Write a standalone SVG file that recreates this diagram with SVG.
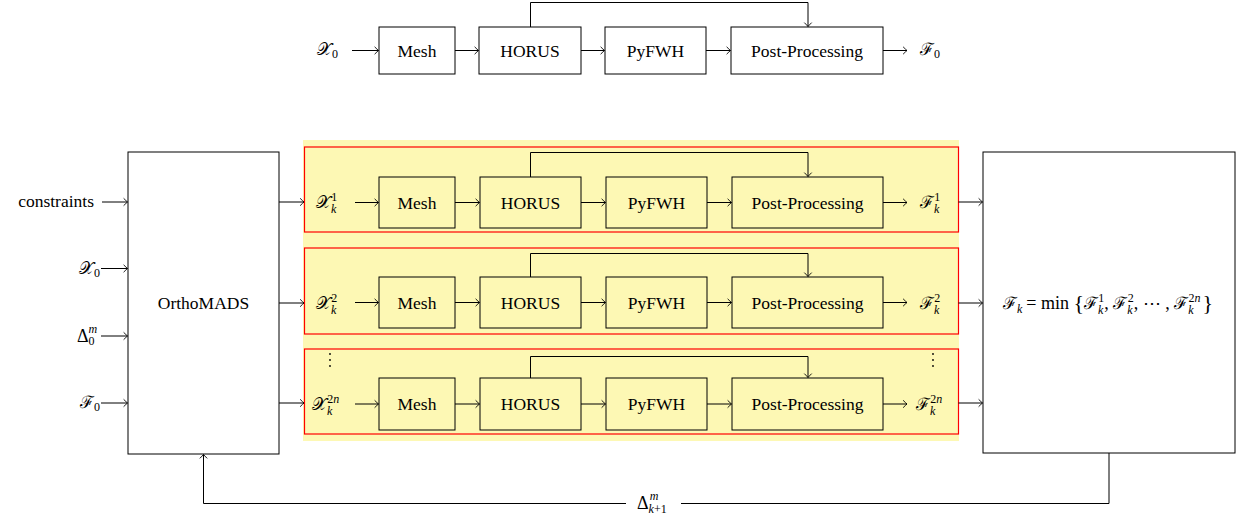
<svg xmlns="http://www.w3.org/2000/svg" width="1242" height="519" viewBox="0 0 1242 519">
  <defs>
    <marker id="to" markerUnits="userSpaceOnUse" markerWidth="10" markerHeight="10" refX="0" refY="0" viewBox="-6 -5 8 10" orient="auto" overflow="visible">
      <path d="M -3.6 -3.4 Q -1.2 -1 0 0 Q -1.2 1 -3.6 3.4" fill="none" stroke="#000" stroke-width="0.9" stroke-linecap="round"/>
    </marker>
  </defs>
  <style>
    text { font-family: 'Liberation Serif', serif; fill: #000; }
    .box { fill: none; stroke: #000; stroke-width: 1; }
    .lane { fill: none; stroke: #ff0000; stroke-width: 1.2; }
    .wire { fill: none; stroke: #000; stroke-width: 1; }
    .arr { fill: none; stroke: #000; stroke-width: 1; marker-end: url(#to); }
    .lbl { font-size: 17.5px; text-anchor: middle; dominant-baseline: central; }
    .m { font-size: 17px; }
    .r { font-size: 18px; }
    .s { font-size: 12px; }
    .i { font-style: italic; }
  </style>

  <rect width="1242" height="519" fill="#fff"/>

  <!-- shaded band behind the parallel evaluations -->
  <rect id="band" x="303" y="140" width="656" height="301" fill="#fdf8b4"/>

  <g font-family="'Liberation Serif', serif" fill="#000">

  <!-- ===== single evaluation chain (top) ===== -->
  <g id="top-chain">
    <g id="top-x0"><text x="317" y="55" class="m">𝒳<tspan class="s" dy="3">0</tspan></text></g>
    <g id="top-mesh"><rect class="box" x="379" y="27" width="76" height="47"/><text class="lbl" x="417" y="51">Mesh</text></g>
    <g id="top-horus"><rect class="box" x="479" y="27" width="102" height="47"/><text class="lbl" x="530" y="51">HORUS</text></g>
    <g id="top-pyfwh"><rect class="box" x="605" y="27" width="101" height="47"/><text class="lbl" x="655.5" y="51">PyFWH</text></g>
    <g id="top-post"><rect class="box" x="731" y="27" width="152" height="47"/><text class="lbl" x="807" y="51">Post-Processing</text></g>
    <g id="top-f0"><text x="920" y="55" class="m">ℱ<tspan class="s" dy="3">0</tspan></text></g>
  </g>

  <!-- ===== optimiser ===== -->
  <g id="orthomads"><rect class="box" x="128" y="152" width="151" height="302"/><text class="lbl" x="203.5" y="303">OrthoMADS</text></g>

  <g id="in-constraints"><text x="94" y="207" font-size="17.5" text-anchor="end">constraints</text></g>
  <g id="in-x0"><text x="100" y="274" class="m" text-anchor="end">𝒳<tspan class="s" dy="3">0</tspan></text></g>
  <g id="in-delta0"><text x="77" y="342" class="r">Δ<tspan class="s" dy="3">0</tspan><tspan class="s i" dx="-6" dy="-12">m</tspan></text></g>
  <g id="in-f0"><text x="100" y="408" class="m" text-anchor="end">ℱ<tspan class="s" dy="3">0</tspan></text></g>

  <!-- ===== parallel evaluation lanes ===== -->
  <g id="lane-1">
    <rect class="lane" x="304.5" y="147" width="654" height="85"/>
    <g id="lane1-x"><text x="316" y="208" class="m">𝒳<tspan class="s i" dy="5">k</tspan><tspan class="s" dx="-5" dy="-12">1</tspan></text></g>
    <g id="lane1-mesh"><rect class="box" x="379" y="177" width="76" height="51"/><text class="lbl" x="417" y="203">Mesh</text></g>
    <g id="lane1-horus"><rect class="box" x="480" y="177" width="101" height="51"/><text class="lbl" x="530.5" y="203">HORUS</text></g>
    <g id="lane1-pyfwh"><rect class="box" x="606" y="177" width="101" height="51"/><text class="lbl" x="656.5" y="203">PyFWH</text></g>
    <g id="lane1-post"><rect class="box" x="732" y="177" width="151" height="51"/><text class="lbl" x="807.5" y="203">Post-Processing</text></g>
    <g id="lane1-f"><text x="920" y="208" class="m">ℱ<tspan class="s i" dy="5">k</tspan><tspan class="s" dx="-5" dy="-12">1</tspan></text></g>
  </g>

  <g id="lane-2">
    <rect class="lane" x="304.5" y="248" width="654" height="86"/>
    <g id="lane2-x"><text x="316" y="309" class="m">𝒳<tspan class="s i" dy="5">k</tspan><tspan class="s" dx="-5" dy="-12">2</tspan></text></g>
    <g id="lane2-mesh"><rect class="box" x="379" y="277" width="76" height="51"/><text class="lbl" x="417" y="303">Mesh</text></g>
    <g id="lane2-horus"><rect class="box" x="480" y="277" width="101" height="51"/><text class="lbl" x="530.5" y="303">HORUS</text></g>
    <g id="lane2-pyfwh"><rect class="box" x="606" y="277" width="101" height="51"/><text class="lbl" x="656.5" y="303">PyFWH</text></g>
    <g id="lane2-post"><rect class="box" x="732" y="277" width="151" height="51"/><text class="lbl" x="807.5" y="303">Post-Processing</text></g>
    <g id="lane2-f"><text x="920" y="309" class="m">ℱ<tspan class="s i" dy="5">k</tspan><tspan class="s" dx="-5" dy="-12">2</tspan></text></g>
  </g>

  <g id="lane-3">
    <rect class="lane" x="304.5" y="349" width="654" height="85"/>
    <g id="lane3-vdots-l"><circle cx="330" cy="354" r="0.9"/><circle cx="330" cy="360" r="0.9"/><circle cx="330" cy="366" r="0.9"/></g>
    <g id="lane3-vdots-r"><circle cx="933" cy="354" r="0.9"/><circle cx="933" cy="360" r="0.9"/><circle cx="933" cy="366" r="0.9"/></g>
    <g id="lane3-x"><text x="312" y="410" class="m">𝒳<tspan class="s i" dy="5">k</tspan><tspan class="s" dx="-5" dy="-12">2<tspan class="i">n</tspan></tspan></text></g>
    <g id="lane3-mesh"><rect class="box" x="379" y="378" width="76" height="52"/><text class="lbl" x="417" y="404">Mesh</text></g>
    <g id="lane3-horus"><rect class="box" x="480" y="378" width="101" height="52"/><text class="lbl" x="530.5" y="404">HORUS</text></g>
    <g id="lane3-pyfwh"><rect class="box" x="606" y="378" width="101" height="52"/><text class="lbl" x="656.5" y="404">PyFWH</text></g>
    <g id="lane3-post"><rect class="box" x="732" y="378" width="151" height="52"/><text class="lbl" x="807.5" y="404">Post-Processing</text></g>
    <g id="lane3-f"><text x="916" y="410" class="m">ℱ<tspan class="s i" dy="5">k</tspan><tspan class="s" dx="-5" dy="-12">2<tspan class="i">n</tspan></tspan></text></g>
  </g>

  <!-- ===== aggregation ===== -->
  <g id="minimum">
    <rect class="box" x="983" y="152" width="252" height="301"/>
    <text x="1108" y="309" class="m" text-anchor="middle">ℱ<tspan class="s i" dy="4">k</tspan><tspan class="r" dx="4" dy="-4">= min </tspan><tspan font-size="22" dy="1">{</tspan><tspan dy="-1">ℱ</tspan><tspan class="s i" dy="5">k</tspan><tspan class="s" dx="-5" dy="-12">1</tspan><tspan class="r" dy="7">, </tspan><tspan>ℱ</tspan><tspan class="s i" dy="5">k</tspan><tspan class="s" dx="-5" dy="-12">2</tspan><tspan class="r" dy="7">, ⋯ , </tspan><tspan>ℱ</tspan><tspan class="s i" dy="5">k</tspan><tspan class="s" dx="-5" dy="-12">2<tspan class="i">n</tspan></tspan><tspan font-size="22" dx="2" dy="8">}</tspan></text>
  </g>

  <g id="feedback-label"><text x="637" y="509" class="r">Δ<tspan class="s i" dy="4">k</tspan><tspan class="s">+1</tspan><tspan class="s i" dx="-17" dy="-13">m</tspan></text></g>
  </g>

  <!-- ===== connectors ===== -->
  <g id="connectors">
    <!-- top chain -->
    <path class="arr" d="M352 50.5 H378.5"/>
    <path class="arr" d="M455 50.5 H478.5"/>
    <path class="arr" d="M581 50.5 H604.5"/>
    <path class="arr" d="M706 50.5 H730.5"/>
    <path class="arr" d="M883 50.5 H907"/>
    <path class="arr" d="M530.5 27 V2.5 H808 V26.5"/>

    <!-- optimiser inputs -->
    <path class="arr" d="M102 202 H127.5"/>
    <path class="arr" d="M101 268.5 H127.5"/>
    <path class="arr" d="M101 336 H127.5"/>
    <path class="arr" d="M101 403 H127.5"/>

    <!-- optimiser outputs to lanes -->
    <path class="arr" d="M279 202 H304"/>
    <path class="arr" d="M279 303 H304"/>
    <path class="arr" d="M279 403 H304"/>

    <!-- lane 1 -->
    <path class="arr" d="M355 202.5 H378.5"/>
    <path class="arr" d="M455 202.5 H479.5"/>
    <path class="arr" d="M581 202.5 H605.5"/>
    <path class="arr" d="M707 202.5 H731.5"/>
    <path class="arr" d="M883 202.5 H907"/>
    <path class="arr" d="M530.5 177 V152.5 H808 V176.5"/>

    <!-- lane 2 -->
    <path class="arr" d="M355 302.5 H378.5"/>
    <path class="arr" d="M455 302.5 H479.5"/>
    <path class="arr" d="M581 302.5 H605.5"/>
    <path class="arr" d="M707 302.5 H731.5"/>
    <path class="arr" d="M883 302.5 H907"/>
    <path class="arr" d="M530.5 277 V253.5 H808 V276.5"/>

    <!-- lane 3 -->
    <path class="arr" d="M355 404 H378.5"/>
    <path class="arr" d="M455 404 H479.5"/>
    <path class="arr" d="M581 404 H605.5"/>
    <path class="arr" d="M707 404 H731.5"/>
    <path class="arr" d="M883 404 H907"/>
    <path class="arr" d="M530.5 378 V356.5 H808 V377.5"/>

    <!-- lanes to minimum -->
    <path class="arr" d="M958.5 202 H982.5"/>
    <path class="arr" d="M958.5 303 H982.5"/>
    <path class="arr" d="M958.5 403 H982.5"/>

    <!-- mesh-size feedback -->
    <path class="wire" d="M1109 453 V503.5 H681"/>
    <path class="arr" d="M626 503.5 H203.5 V454.5"/>
  </g>
</svg>
